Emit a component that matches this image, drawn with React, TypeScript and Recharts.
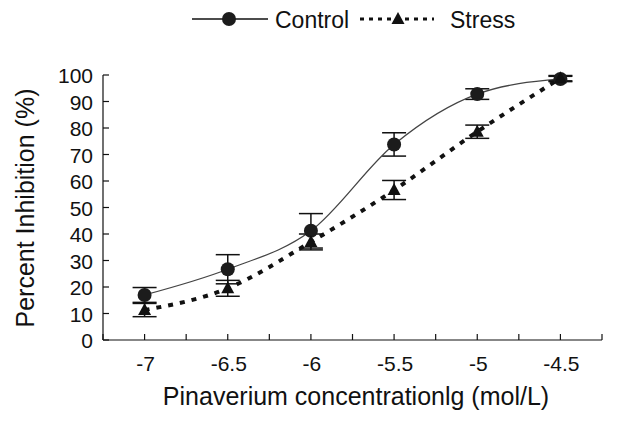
import {
  ErrorBar,
  Legend,
  Line,
  LineChart,
  XAxis,
  YAxis,
  Label,
} from "recharts";

// log concentration (mol/L)
const concentrations = [-7, -6.5, -6, -5.5, -5, -4.5];
const controlMean = [17, 26.7, 41.2, 73.8, 92.8, 98.5];
const controlSem = [2.8, 5.5, 6.5, 4.4, 2, 1];
const stressMean = [11.3, 19.5, 37, 56.6, 78.6, 98.8];
const stressSem = [2.5, 3, 3, 3.6, 2.5, 1];

const xTicks = [-7.25, -7, -6.75, -6.5, -6.25, -6, -5.75, -5.5, -5.25, -5, -4.75, -4.5, -4.25];
const yTicks = [0, 10, 20, 30, 40, 50, 60, 70, 80, 90, 100];

const data = concentrations.map((x, i) => ({
  x,
  control: controlMean[i],
  controlErr: controlSem[i],
  stress: stressMean[i],
  stressErr: stressSem[i],
}));

const FONT = "'Liberation Sans', Arial, sans-serif";
const INK = "#111";

function XTick(props: any) {
  const { x, y, payload } = props;
  const v = payload.value as number;
  const major = Math.abs(v * 2 - Math.round(v * 2)) < 1e-6;
  return (
    <g>
      <line x1={x} x2={x} y1={y} y2={y - 6} stroke={INK} strokeWidth={1.2} />
      {major && (
        <text x={x + 1} y={y + 31} textAnchor="middle" fontSize={21} fontFamily={FONT} fill={INK}>
          {v}
        </text>
      )}
    </g>
  );
}

function YTick(props: any) {
  const { x, y, payload } = props;
  return (
    <g>
      <line x1={x} x2={x + 6} y1={y} y2={y} stroke={INK} strokeWidth={1.2} />
      <text x={x - 10} y={y + 8} textAnchor="end" fontSize={21} fontFamily={FONT} fill={INK}>
        {payload.value}
      </text>
    </g>
  );
}

function CircleDot(props: any) {
  const { cx, cy } = props;
  if (cx == null || cy == null) return null;
  return <circle cx={cx} cy={cy} r={7} fill="#1c1c1c" />;
}

function TriangleDot(props: any) {
  const { cx, cy } = props;
  if (cx == null || cy == null) return null;
  return <polygon points={`${cx},${cy - 7} ${cx - 6.5},${cy + 5} ${cx + 6.5},${cy + 5}`} fill="#111" />;
}

function LegendBox() {
  return (
    <svg width={633} height={40} style={{ display: "block" }}>
      <line x1={192} x2={268} y1={19} y2={19} stroke={INK} strokeWidth={1.5} />
      <circle cx={229} cy={19} r={7} fill="#1c1c1c" />
      <text x={275} y={28} fontSize={23} fontFamily={FONT} fill={INK}>
        Control
      </text>
      <line x1={360} x2={434} y1={19} y2={19} stroke={INK} strokeWidth={3} strokeDasharray="4 5" />
      <polygon points="398,12 391.5,24 404.5,24" fill="#111" />
      <text x={450} y={28} fontSize={23} fontFamily={FONT} fill={INK}>
        Stress
      </text>
    </svg>
  );
}

export default function App() {
  return (
    <div style={{ position: "absolute", left: 0, top: 0, width: 633, height: 426, background: "#fff" }}>
      <LineChart
        width={633}
        height={426}
        data={data}
        margin={{ top: 35, right: 31, bottom: 56, left: 43 }}
      >
        <Legend
          verticalAlign="top"
          height={40}
          content={<LegendBox />}
          wrapperStyle={{ left: 0, top: 0, width: 633, height: 40 }}
        />
        <XAxis
          dataKey="x"
          type="number"
          domain={[-7.25, -4.25]}
          ticks={xTicks}
          interval={0}
          height={30}
          tickSize={0}
          tickMargin={0}
          tickLine={false}
          tick={<XTick />}
          axisLine={{ stroke: INK, strokeWidth: 1.2 }}
        >
          <Label
            content={() => (
              <text x={356} y={405} textAnchor="middle" fontSize={25} fontFamily={FONT} fill={INK}>
                Pinaverium concentrationlg (mol/L)
              </text>
            )}
          />
        </XAxis>
        <YAxis
          type="number"
          domain={[0, 100]}
          ticks={yTicks}
          interval={0}
          width={60}
          tickSize={0}
          tickMargin={0}
          tickLine={false}
          tick={<YTick />}
          axisLine={{ stroke: INK, strokeWidth: 1.2 }}
        >
          <Label
            content={() => (
              <text
                x={0}
                y={0}
                transform="translate(34, 208) rotate(-90)"
                textAnchor="middle"
                fontSize={25}
                fontFamily={FONT}
                fill={INK}
              >
                Percent Inhibition (%)
              </text>
            )}
          />
        </YAxis>
        <Line
          dataKey="control"
          type="monotone"
          stroke="#444"
          strokeWidth={1.3}
          dot={<CircleDot />}
          activeDot={false}
          isAnimationActive={false}
        >
          <ErrorBar dataKey="controlErr" direction="y" width={12} stroke={INK} strokeWidth={1.5} isAnimationActive={false} />
        </Line>
        <Line
          dataKey="stress"
          type="monotone"
          stroke="#111"
          strokeWidth={4}
          strokeDasharray="5 7"
          dot={<TriangleDot />}
          activeDot={false}
          isAnimationActive={false}
        >
          <ErrorBar dataKey="stressErr" direction="y" width={12} stroke={INK} strokeWidth={1.5} isAnimationActive={false} />
        </Line>
      </LineChart>
    </div>
  );
}
